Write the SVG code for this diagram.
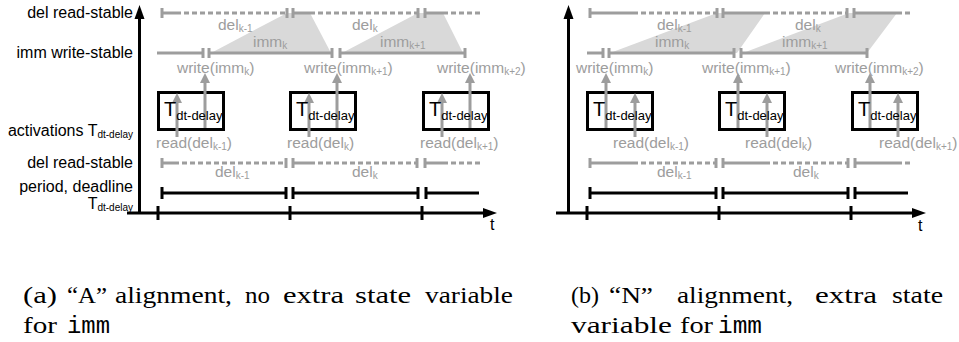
<svg xmlns="http://www.w3.org/2000/svg" width="959" height="342" viewBox="0 0 959 342">
  <style>
    .g { stroke: #9d9d9d; stroke-width: 3; fill: none; }
    .gd { stroke-dasharray: 5 3; }
    .k { stroke: #000; stroke-width: 3; fill: none; }
    .shade { fill: #d9d9d9; stroke: none; }
    .box { fill: #fff; stroke: #000; stroke-width: 3; }
    .lab { font-family: "Liberation Sans", Arial, sans-serif; font-size: 16px; fill: #000; }
    .gl { font-family: "Liberation Sans", Arial, sans-serif; font-size: 15.5px; fill: #9d9d9d; }
    .sub { font-size: 10px; }
    .bt { font-family: "Liberation Sans", Arial, sans-serif; font-size: 20px; fill: #000; }
    .bs { font-size: 13px; }
    .cap { font-family: "Liberation Serif", "Times New Roman", serif; font-size: 24px; fill: #000; }
    .mono { font-family: "Liberation Mono", "Courier New", monospace; }
    .arr { stroke: #9d9d9d; stroke-width: 3; fill: none; marker-end: url(#ah); }
  </style>
  <defs>
    <marker id="ah" markerUnits="userSpaceOnUse" markerWidth="10" markerHeight="10" viewBox="0 0 10 10" refX="2" refY="5" orient="auto">
      <path d="M0,0L10,5L0,10z" fill="#9d9d9d"/>
    </marker>
  </defs>
  <rect width="959" height="342" fill="#fff"/>

  <!-- ===== Panel (a): "A" alignment ===== -->
  <g id="panel-a">
    <g id="a-row-labels" class="lab" text-anchor="end">
      <text x="133" y="18">del read-stable</text>
      <text x="133" y="58">imm write-stable</text>
      <text x="133" y="136">activations T<tspan class="sub" dy="2">dt-delay</tspan></text>
      <text x="133" y="168">del read-stable</text>
      <text x="133" y="192">period, deadline</text>
      <text x="133" y="209">T<tspan class="sub" dy="2">dt-delay</tspan></text>
    </g>

    <!-- stable windows of imm -->
    <g id="a-imm-windows">
      <polygon class="shade" points="211,53 287,13 310,13 331,53"/>
      <polygon class="shade" points="342,53 418,13 443,13 463,53"/>
    </g>

    <!-- del read-stable (top) -->
    <g id="a-del-top">
      <path class="g" d="M162,13H176 M293,13H310 M425,13H443 M162,8V18 M287,8V18 M293,8V18 M418,8V18 M425,8V18"/>
      <path class="g gd" d="M176,13H287 M310,13H418 M443,13H480"/>
    </g>
    <!-- imm write-stable -->
    <g id="a-imm">
      <path class="g" d="M157,53H203 M209,53H332 M340,53H465 M203,48V58 M209,48V58 M332,48V58 M340,48V58 M465,48V58"/>
    </g>

    <g id="a-interval-labels" class="gl">
      <text x="218" y="29.5">del<tspan class="sub" dy="2">k-1</tspan></text>
      <text x="352" y="29.5">del<tspan class="sub" dy="2">k</tspan></text>
      <text x="253" y="46.5">imm<tspan class="sub" dy="2">k</tspan></text>
      <text x="380" y="46.5">imm<tspan class="sub" dy="2">k+1</tspan></text>
      <text x="177" y="73">write(imm<tspan class="sub" dy="2">k</tspan><tspan dy="-2">)</tspan></text>
      <text x="304" y="73">write(imm<tspan class="sub" dy="2">k+1</tspan><tspan dy="-2">)</tspan></text>
      <text x="437" y="73">write(imm<tspan class="sub" dy="2">k+2</tspan><tspan dy="-2">)</tspan></text>
      <text x="156" y="148">read(del<tspan class="sub" dy="2">k-1</tspan><tspan dy="-2">)</tspan></text>
      <text x="287" y="148">read(del<tspan class="sub" dy="2">k</tspan><tspan dy="-2">)</tspan></text>
      <text x="420" y="148">read(del<tspan class="sub" dy="2">k+1</tspan><tspan dy="-2">)</tspan></text>
      <text x="215" y="176.5">del<tspan class="sub" dy="2">k-1</tspan></text>
      <text x="352" y="176.5">del<tspan class="sub" dy="2">k</tspan></text>
    </g>

    <!-- activation boxes -->
    <g id="a-act-1"><rect class="box" x="158.5" y="92.5" width="65" height="37"/></g>
    <g id="a-act-2"><rect class="box" x="290.5" y="92.5" width="65" height="37"/></g>
    <g id="a-act-3"><rect class="box" x="423.5" y="92.5" width="65" height="37"/></g>

    <g id="a-connectors">
      <line class="arr" x1="177" y1="137" x2="177" y2="101"/>
      <line class="arr" x1="205" y1="128" x2="205" y2="81"/>
      <line class="arr" x1="309" y1="137" x2="309" y2="101"/>
      <line class="arr" x1="337" y1="128" x2="337" y2="81"/>
      <line class="arr" x1="442" y1="137" x2="442" y2="101"/>
      <line class="arr" x1="470" y1="128" x2="470" y2="81"/>
    </g>

    <g id="a-act-labels" class="bt">
      <text x="164" y="116">T<tspan class="bs" dy="3.5">dt-delay</tspan></text>
      <text x="296" y="116">T<tspan class="bs" dy="3.5">dt-delay</tspan></text>
      <text x="429" y="116">T<tspan class="bs" dy="3.5">dt-delay</tspan></text>
    </g>

    <!-- del read-stable (bottom) -->
    <g id="a-del-bottom">
      <path class="g" d="M162,163H174 M293,163H310 M425,163H443 M162,158V168 M286,158V168 M293,158V168 M417,158V168 M425,158V168"/>
      <path class="g gd" d="M174,163H286 M310,163H417 M443,163H480"/>
    </g>
    <!-- period / deadline -->
    <g id="a-period">
      <path class="k" d="M162,193H286 M293,193H418 M426,193H479 M162,187V199 M286,187V199 M293,187V199 M418,187V199 M426,187V199"/>
    </g>

    <!-- axes -->
    <g id="a-axes">
      <path class="k" d="M139.5,213V18 M127,213H485 M158,206V220 M290,206V220 M422,206V220"/>
      <polygon points="139.5,5 134.5,19 144.5,19" fill="#000"/>
      <polygon points="497,213 483,208 483,218" fill="#000"/>
      <text class="lab" x="490" y="230">t</text>
    </g>
  </g>

  <!-- ===== Panel (b): "N" alignment ===== -->
  <g id="panel-b">
    <g id="b-imm-windows">
      <polygon class="shade" points="610,53 717,13 765,13 737,53"/>
      <polygon class="shade" points="743,53 849,13 897,13 867,53"/>
    </g>

    <g id="b-del-top">
      <path class="g" d="M590,13H633 M723,13H765 M854,13H897 M590,8V18 M717,8V18 M723,8V18 M847,8V18 M854,8V18"/>
      <path class="g gd" d="M633,13H717 M765,13H847 M897,13H910"/>
    </g>
    <g id="b-imm">
      <path class="g" d="M587,53H603 M609,53H734 M741,53H867 M603,48V58 M609,48V58 M734,48V58 M741,48V58 M867,48V58"/>
    </g>

    <g id="b-interval-labels" class="gl">
      <text x="657" y="29.5">del<tspan class="sub" dy="2">k-1</tspan></text>
      <text x="795" y="29.5">del<tspan class="sub" dy="2">k</tspan></text>
      <text x="655" y="46.5">imm<tspan class="sub" dy="2">k</tspan></text>
      <text x="782" y="46.5">imm<tspan class="sub" dy="2">k+1</tspan></text>
      <text x="576" y="73">write(imm<tspan class="sub" dy="2">k</tspan><tspan dy="-2">)</tspan></text>
      <text x="702" y="73">write(imm<tspan class="sub" dy="2">k+1</tspan><tspan dy="-2">)</tspan></text>
      <text x="835" y="73">write(imm<tspan class="sub" dy="2">k+2</tspan><tspan dy="-2">)</tspan></text>
      <text x="613" y="148">read(del<tspan class="sub" dy="2">k-1</tspan><tspan dy="-2">)</tspan></text>
      <text x="745" y="148">read(del<tspan class="sub" dy="2">k</tspan><tspan dy="-2">)</tspan></text>
      <text x="879" y="148">read(del<tspan class="sub" dy="2">k+1</tspan><tspan dy="-2">)</tspan></text>
      <text x="657" y="176.5">del<tspan class="sub" dy="2">k-1</tspan></text>
      <text x="793" y="176.5">del<tspan class="sub" dy="2">k</tspan></text>
    </g>

    <g id="b-act-1"><rect class="box" x="587.5" y="92.5" width="65" height="37"/></g>
    <g id="b-act-2"><rect class="box" x="719.5" y="92.5" width="65" height="37"/></g>
    <g id="b-act-3"><rect class="box" x="852.5" y="92.5" width="65" height="37"/></g>

    <g id="b-connectors">
      <line class="arr" x1="606" y1="128" x2="606" y2="81"/>
      <line class="arr" x1="635" y1="137" x2="635" y2="101"/>
      <line class="arr" x1="738" y1="128" x2="738" y2="81"/>
      <line class="arr" x1="767" y1="137" x2="767" y2="101"/>
      <line class="arr" x1="870" y1="128" x2="870" y2="81"/>
      <line class="arr" x1="898" y1="137" x2="898" y2="101"/>
    </g>

    <g id="b-act-labels" class="bt">
      <text x="593" y="116">T<tspan class="bs" dy="3.5">dt-delay</tspan></text>
      <text x="725" y="116">T<tspan class="bs" dy="3.5">dt-delay</tspan></text>
      <text x="858" y="116">T<tspan class="bs" dy="3.5">dt-delay</tspan></text>
    </g>

    <g id="b-del-bottom">
      <path class="g" d="M590,163H633 M723,163H765 M855,163H897 M590,158V168 M716,158V168 M723,158V168 M848,158V168 M855,158V168"/>
      <path class="g gd" d="M633,163H716 M765,163H848 M897,163H910"/>
    </g>
    <g id="b-period">
      <path class="k" d="M590,193H716 M723,193H848 M855,193H908 M590,187V199 M716,187V199 M723,187V199 M848,187V199 M855,187V199"/>
    </g>

    <g id="b-axes">
      <path class="k" d="M568.5,213V18 M556,213H913 M587,206V220 M719,206V220 M851,206V220"/>
      <polygon points="568.5,5 563.5,19 573.5,19" fill="#000"/>
      <polygon points="926,213 912,208 912,218" fill="#000"/>
      <text class="lab" x="918" y="231">t</text>
    </g>
  </g>

  <!-- captions, one positioned word at a time (justified lines) -->
  <g id="captions" class="cap">
    <text x="23" y="303" textLength="34" lengthAdjust="spacingAndGlyphs">(a)</text>
    <text x="67" y="303" textLength="40" lengthAdjust="spacingAndGlyphs">“A”</text>
    <text x="115" y="303" textLength="117" lengthAdjust="spacingAndGlyphs">alignment,</text>
    <text x="245" y="303" textLength="25" lengthAdjust="spacingAndGlyphs">no</text>
    <text x="283" y="303" textLength="61" lengthAdjust="spacingAndGlyphs">extra</text>
    <text x="355" y="303" textLength="56" lengthAdjust="spacingAndGlyphs">state</text>
    <text x="425" y="303" textLength="88" lengthAdjust="spacingAndGlyphs">variable</text>
    <text x="23" y="333" textLength="34" lengthAdjust="spacingAndGlyphs">for</text>
    <text x="67" y="333" class="mono" textLength="43" lengthAdjust="spacingAndGlyphs">imm</text>

    <text x="571" y="303" textLength="28" lengthAdjust="spacingAndGlyphs">(b)</text>
    <text x="609" y="303" textLength="44" lengthAdjust="spacingAndGlyphs">“N”</text>
    <text x="677" y="303" textLength="116" lengthAdjust="spacingAndGlyphs">alignment,</text>
    <text x="815" y="303" textLength="62" lengthAdjust="spacingAndGlyphs">extra</text>
    <text x="892" y="303" textLength="51" lengthAdjust="spacingAndGlyphs">state</text>
    <text x="571" y="333" textLength="101" lengthAdjust="spacingAndGlyphs">variable</text>
    <text x="680" y="333" textLength="33" lengthAdjust="spacingAndGlyphs">for</text>
    <text x="718" y="333" class="mono" textLength="44" lengthAdjust="spacingAndGlyphs">imm</text>
  </g>
</svg>
